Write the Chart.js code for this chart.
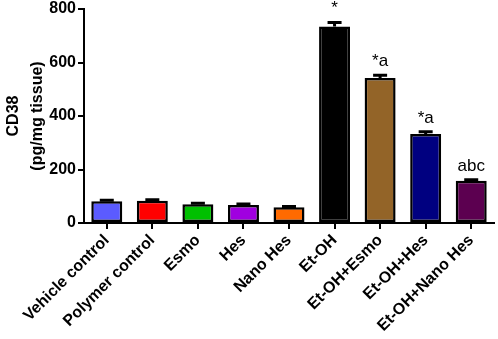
<!DOCTYPE html>
<html>
<head>
<meta charset="utf-8">
<script src="https://cdn.jsdelivr.net/npm/chart.js@4"></script>
<style>
  html, body { margin: 0; padding: 0; background: #fff; }
  #wrap { width: 498px; height: 339px; }
</style>
</head>
<body>
<div id="wrap"><canvas id="chart" width="498" height="339"></canvas></div>
<script>
var groups = ['Vehicle control', 'Polymer control', 'Esmo', 'Hes', 'Nano Hes', 'Et-OH', 'Et-OH+Esmo', 'Et-OH+Hes', 'Et-OH+Nano Hes'];
var means = [81, 83, 70, 67, 59, 735, 542, 333, 158];
var sem = [4, 4, 4, 4, 3, 15, 10, 8, 4];
var marks = ['', '', '', '', '', '*', '*a', '*a', 'abc'];
var colors = ['#5b5bff', '#ff0000', '#00c000', '#a000e0', '#ff6a00', '#000000', '#936428', '#000080', '#5c0050'];
var yTicks = [0, 200, 400, 600, 800];

var font = 'Liberation Sans, Arial, sans-serif';

// upper error bars + significance letters
var extras = {
  id: 'extras',
  afterDatasetsDraw: function(chart) {
    var ctx = chart.ctx;
    var y = chart.scales.y;
    var meta = chart.getDatasetMeta(0);
    ctx.save();
    for (var i = 0; i < means.length; i++) {
      var bar = meta.data[i];
      var top = y.getPixelForValue(means[i] + sem[i]);
      var base = y.getPixelForValue(means[i]);
      ctx.strokeStyle = '#000';
      ctx.lineWidth = 3;
      ctx.beginPath();
      ctx.moveTo(bar.x, base);
      ctx.lineTo(bar.x, top);
      ctx.moveTo(bar.x - 7, top);
      ctx.lineTo(bar.x + 7, top);
      ctx.stroke();
      if (marks[i]) {
        ctx.fillStyle = '#000';
        ctx.font = '17px ' + font;
        ctx.textAlign = 'center';
        ctx.textBaseline = 'alphabetic';
        ctx.fillText(marks[i], bar.x, top - 9);
      }
    }
    ctx.restore();
  }
};

new Chart(document.getElementById('chart').getContext('2d'), {
  type: 'bar',
  data: {
    labels: groups,
    datasets: [{
      data: means,
      backgroundColor: colors,
      borderColor: '#000',
      borderWidth: 2.5,
      borderSkipped: false,
      categoryPercentage: 1,
      barPercentage: 0.68
    }]
  },
  options: {
    responsive: false,
    animation: false,
    layout: { padding: { top: 0, right: 4, left: 2 } },
    plugins: {
      legend: { display: false },
      tooltip: { enabled: false }
    },
    scales: {
      x: {
        afterFit: function(scale) { scale.height = 116; },
        grid: { offset: false, drawOnChartArea: false, drawTicks: true, tickLength: 6, color: '#000', lineWidth: 2 },
        border: { color: '#000', width: 2 },
        ticks: {
          color: '#000',
          font: { family: font, size: 16, weight: 'bold' },
          maxRotation: 45,
          minRotation: 45,
          padding: 2,
          autoSkip: false
        }
      },
      y: {
        min: 0,
        max: 800,
        afterFit: function(scale) {
          scale.width = 82;
          scale.paddingTop = 9;
        },
        afterBuildTicks: function(scale) {
          scale.ticks = yTicks.map(function(v) { return { value: v }; });
        },
        grid: { drawOnChartArea: false, drawTicks: true, tickLength: 6, color: '#000', lineWidth: 2 },
        border: { color: '#000', width: 2 },
        ticks: {
          color: '#000',
          font: { family: font, size: 16, weight: 'bold' },
          padding: 2
        },
        title: {
          display: true,
          text: ['CD38', '(pg/mg tissue)'],
          color: '#000',
          font: { family: font, size: 16, weight: 'bold', lineHeight: 1.5 },
          padding: { top: 0, bottom: 4 }
        }
      }
    }
  },
  plugins: [extras]
});
</script>
</body>
</html>
